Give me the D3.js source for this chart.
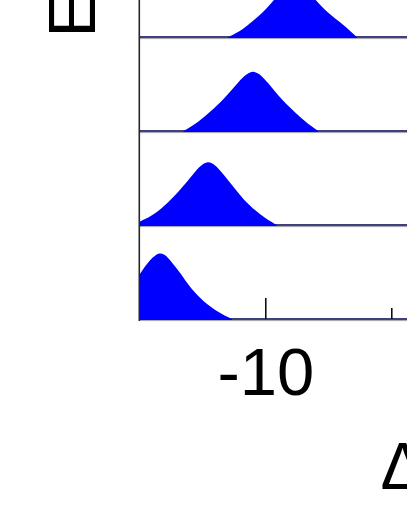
<!DOCTYPE html>
<html>
<head>
<meta charset="utf-8">
<script src="https://cdn.jsdelivr.net/npm/d3@7"></script>
<style>
html,body{margin:0;padding:0;background:#fff;overflow:hidden;}
svg{display:block;}
text{font-family:"Liberation Sans",Arial,sans-serif;}
</style>
</head>
<body>
<svg id="chart" width="407" height="527"></svg>
<script>
// ---- data ----
const rowNames = ["row1", "row2", "row3", "row4"];           // top to bottom
const row1X = [-11.47, -11.0, -10.61, -10.12, -9.64, -9.25, -8.82, -8.40, -8.03, -7.50, -6.97, -6.68, -6.37];
const row1Y = [0.00, 0.055, 0.137, 0.237, 0.37, 0.51, 0.60, 0.51, 0.37, 0.237, 0.137, 0.07, 0.00];
const row2X = [-13.25, -12.79, -12.26, -11.60, -11.07, -10.47, -9.88, -9.35, -8.62, -8.20, -7.90];
const row2Y = [0.00, 0.065, 0.175, 0.33, 0.49, 0.645, 0.48, 0.31, 0.14, 0.05, 0.00];
const row3X = [-15.0, -14.56, -14.03, -13.37, -12.84, -12.31, -11.85, -11.39, -10.86, -10.33, -9.90, -9.54];
const row3Y = [0.033, 0.08, 0.18, 0.35, 0.52, 0.665, 0.57, 0.42, 0.25, 0.13, 0.05, 0.00];
const row4X = [-15.0, -14.69, -14.17, -13.77, -13.37, -12.98, -12.44, -11.92, -11.32];
const row4Y = [0.44, 0.56, 0.695, 0.59, 0.46, 0.31, 0.17, 0.075, 0.00];
const majorTicks = [-10, 0];
const minorTicks = [-5, 5];
const tickLabels = ["-10", "0"];
const xLabel = "\u0394G (kcal/mol)";
const yLabel = "Energy";

const series = [
  {row: rowNames[0], xs: row1X, ys: row1Y},
  {row: rowNames[1], xs: row2X, ys: row2Y},
  {row: rowNames[2], xs: row3X, ys: row3Y},
  {row: rowNames[3], xs: row4X, ys: row4Y}
];

// ---- scales ----
const x = d3.scaleLinear().domain([-15, 5]).range([139.3, 643.3]);
const yRow = d3.scalePoint().domain(rowNames).range([37, 319]);
const h = d3.scaleLinear().domain([0, 1]).range([0, 100]);

const svg = d3.select("#chart");
const defs = svg.append("defs");

// baselines
const base = svg.append("g");
rowNames.forEach(r => {
  base.append("line").attr("x1", x(-15)).attr("x2", 700)
    .attr("y1", yRow(r) + 1.6).attr("y2", yRow(r) + 1.6)
    .attr("stroke", "#a0a0a8").attr("stroke-width", 1);
  base.append("line").attr("x1", x(-15)).attr("x2", 700)
    .attr("y1", yRow(r)).attr("y2", yRow(r))
    .attr("stroke", "#000050").attr("stroke-width", 1.6);
});

// ridges
series.forEach((s, k) => {
  const pts = s.xs.map((v, i) => [v, s.ys[i]]);
  const b = yRow(s.row) + 0.9;
  defs.append("clipPath").attr("id", "clip" + k)
    .append("rect").attr("x", x(-15)).attr("y", b - 200)
    .attr("width", 700).attr("height", 200);
  const area = d3.area()
    .x(d => x(d[0]))
    .y0(b)
    .y1(d => b - 0.9 - h(d[1]))
    .curve(d3.curveBasis);
  svg.append("path").datum(pts).attr("d", area)
    .attr("clip-path", `url(#clip${k})`).attr("fill", "#0000ff");
});

// left axis line
svg.append("line").attr("x1", x(-15)).attr("x2", x(-15))
  .attr("y1", 0).attr("y2", yRow(rowNames[3]) + 2)
  .attr("stroke", "#262626").attr("stroke-width", 1.6);

// x ticks
const axisY = yRow(rowNames[3]);
const major = svg.append("g").attr("transform", `translate(0,${axisY})`)
  .call(d3.axisBottom(x).tickValues(majorTicks).tickSize(-21)
    .tickFormat((d, i) => tickLabels[i]));
major.select(".domain").remove();
major.selectAll(".tick line").attr("stroke", "#000").attr("stroke-width", 1.5);
major.selectAll(".tick text")
  .attr("y", 76).attr("dy", null)
  .attr("fill", "#000").attr("font-size", 67)
  .attr("font-family", "'Liberation Sans', Arial, sans-serif");

const minor = svg.append("g").attr("transform", `translate(0,${axisY})`)
  .call(d3.axisBottom(x).tickValues(minorTicks).tickSize(-11).tickFormat(""));
minor.select(".domain").remove();
minor.selectAll(".tick line").attr("stroke", "#000").attr("stroke-width", 1.5);

// axis labels
svg.append("text").attr("x", 380.5).attr("y", 489)
  .attr("font-size", 66).attr("fill", "#000").text(xLabel);

svg.append("text").attr("transform", "translate(95,37.5) rotate(-90)")
  .attr("text-anchor", "start").attr("font-size", 67).attr("fill", "#000").text(yLabel);
</script>
</body>
</html>
